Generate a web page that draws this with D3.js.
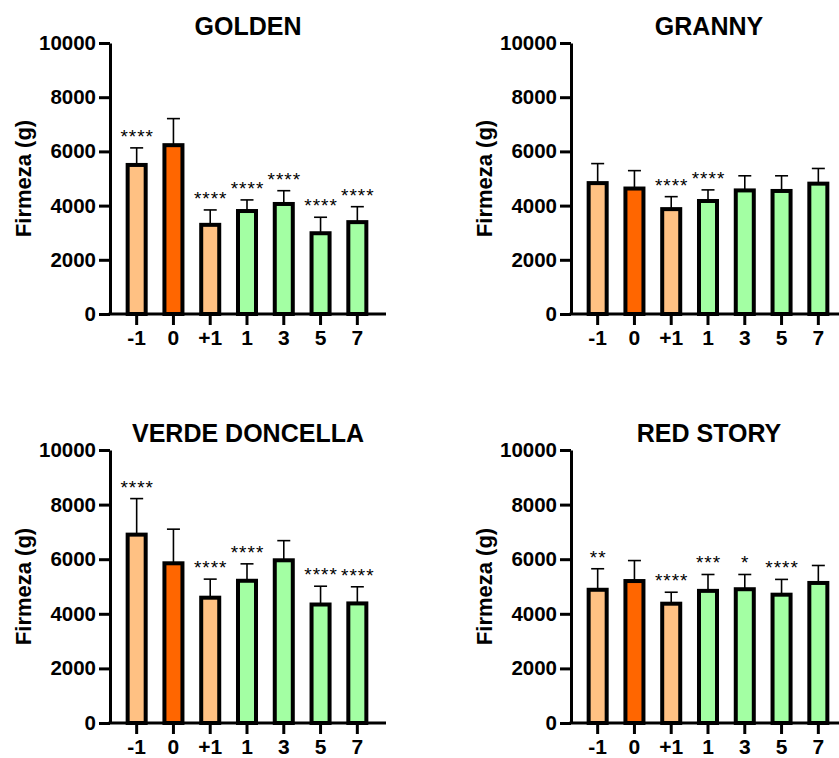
<!DOCTYPE html>
<html><head><meta charset="utf-8">
<script src="https://cdn.jsdelivr.net/npm/d3@7"></script>
<style>body{margin:0;background:#fff}svg{display:block}text{font-family:"Liberation Sans",Arial,sans-serif}</style>
</head><body>
<svg id="c" width="839" height="758"></svg>
<script>
const categories = ["-1","0","+1","1","3","5","7"];
const yTicks = [0,2000,4000,6000,8000,10000];
const panelTitles = ["GOLDEN","GRANNY","VERDE DONCELLA","RED STORY"];
const colorGroup = ["light","dark","light","green","green","green","green"];

const goldenMean = [5500,6230,3290,3800,4060,2980,3390];
const goldenSD   = [630,980,550,410,490,590,570];
const goldenSig  = ["****","","****","****","****","****","****"];

const grannyMean = [4830,4630,3870,4170,4560,4540,4810];
const grannySD   = [720,660,460,410,540,560,560];
const grannySig  = ["","","****","****","","",""];

const verdeMean = [6900,5850,4590,5210,5960,4340,4380];
const verdeSD   = [1320,1250,680,620,720,670,610];
const verdeSig  = ["****","","****","****","","****","****"];

const redMean = [4880,5200,4370,4840,4900,4700,5130];
const redSD   = [770,750,420,600,540,560,640];
const redSig  = ["**","","****","***","*","****",""];

const palette = {light:"#FFC183", dark:"#FF6600", green:"#A3FFA3"};

const panels = [
  {title:panelTitles[0], mean:goldenMean, sd:goldenSD, sig:goldenSig, ax:110, top:43, bot:314},
  {title:panelTitles[1], mean:grannyMean, sd:grannySD, sig:grannySig, ax:571, top:43, bot:314},
  {title:panelTitles[2], mean:verdeMean, sd:verdeSD, sig:verdeSig, ax:110, top:450, bot:723},
  {title:panelTitles[3], mean:redMean, sd:redSD, sig:redSig, ax:571, top:450, bot:723}
];

const svg = d3.select("#c");
const FF = '"Liberation Sans",Arial,sans-serif';

panels.forEach(p => {
  const g = svg.append("g");
  const y = d3.scaleLinear().domain([0,10000]).range([p.bot, p.top]);
  const x = d3.scaleBand().domain(categories).range([p.ax, p.ax+274]).paddingOuter(0.225).paddingInner(0);
  const bw = x.bandwidth()*0.49;
  const data = categories.map((c,i)=>({c, m:p.mean[i], s:p.sd[i], sig:p.sig[i], col:palette[colorGroup[i]]}));

  // error bars
  const eb = g.append("g");
  data.forEach(d => {
    const cx = x(d.c)+x.bandwidth()/2;
    eb.append("line").attr("x1",cx).attr("x2",cx).attr("y1",y(d.m)).attr("y2",y(d.m+d.s))
      .attr("stroke","#000").attr("stroke-width",1.6);
    eb.append("line").attr("x1",cx-6.5).attr("x2",cx+6.5).attr("y1",y(d.m+d.s)).attr("y2",y(d.m+d.s))
      .attr("stroke","#000").attr("stroke-width",1.6);
  });

  // bars
  g.append("g").selectAll("rect").data(data).join("rect")
    .attr("x", d=>x(d.c)+x.bandwidth()/2-bw/2)
    .attr("width", bw)
    .attr("y", d=>y(d.m))
    .attr("height", d=>y(0)-y(d.m))
    .attr("fill", d=>d.col)
    .attr("stroke","#000").attr("stroke-width",4);

  // significance stars
  g.append("g").selectAll("text").data(data.filter(d=>d.sig)).join("text")
    .attr("x", d=>x(d.c)+x.bandwidth()/2 + 0.5)
    .attr("y", d=>y(d.m+d.s)-5)
    .attr("text-anchor","middle")
    .attr("font-size",19)
    .attr("letter-spacing",1)
    .attr("fill","#000")
    .text(d=>d.sig);

  // y axis
  const yAx = g.append("g").attr("transform",`translate(${p.ax},0)`)
    .call(d3.axisLeft(y).tickValues(yTicks).tickFormat(d3.format("d")).tickSize(11).tickSizeOuter(0).tickPadding(3));
  yAx.select(".domain").attr("stroke-width",3).attr("stroke","#000");
  yAx.selectAll(".tick line").attr("stroke-width",3).attr("stroke","#000");
  yAx.selectAll(".tick text").attr("font-size",20.5).attr("font-weight","bold").attr("fill","#000")
    .style("font-family",FF);

  // x axis
  const xAx = g.append("g").attr("transform",`translate(0,${p.bot})`)
    .call(d3.axisBottom(x).tickSize(11).tickSizeOuter(0).tickPadding(5));
  xAx.select(".domain").attr("stroke-width",3).attr("stroke","#000")
    .attr("d", `M${p.ax-1.5},0H${p.ax+276}`);
  xAx.selectAll(".tick line").attr("stroke-width",3).attr("stroke","#000");
  xAx.selectAll(".tick text").attr("font-size",21).attr("font-weight","bold").attr("fill","#000")
    .style("font-family",FF);

  // title
  g.append("text").attr("x", p.ax+138).attr("y", p.top-8)
    .attr("text-anchor","middle").attr("font-size",25).attr("font-weight","bold").text(p.title);

  // y label
  g.append("text").attr("transform",`translate(${p.ax-79},${(p.top+p.bot)/2}) rotate(-90)`)
    .attr("text-anchor","middle").attr("font-size",22).attr("font-weight","bold").text("Firmeza (g)");
});
</script>
</body></html>
